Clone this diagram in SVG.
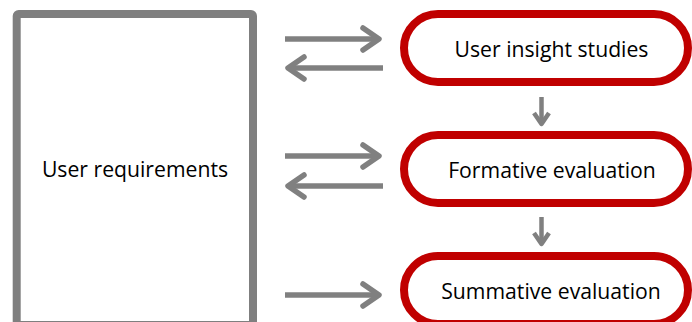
<svg xmlns="http://www.w3.org/2000/svg" width="692" height="322" viewBox="0 0 692 322">
<style>
.box{fill:#fff;stroke:#7f7f7f;stroke-width:8}
.pill{fill:#fff;stroke:#c00000;stroke-width:8}
.lbl{font-family:"Open Sans","Liberation Sans",sans-serif;font-size:21.2px;fill:#000;text-anchor:middle}
.arr{fill:none;stroke:#808080;stroke-width:5.5;stroke-linecap:round;stroke-linejoin:round}
.arr-s{fill:none;stroke:#808080;stroke-width:5.5}
.darr{fill:none;stroke:#808080;stroke-width:4.5;stroke-linejoin:round}
</style>
<rect width="692" height="322" fill="#fff"/>
<g id="user-requirements">
<rect class="box" x="16.7" y="14" width="236.3" height="311" rx="2"/>
<text class="lbl" x="135" y="177">User requirements</text>
</g>
<g id="user-insight-studies">
<rect class="pill" x="404" y="14" width="284" height="68" rx="34"/>
<text class="lbl" x="551.5" y="57">User insight studies</text>
</g>
<g id="formative-evaluation">
<rect class="pill" x="404" y="135" width="284" height="68" rx="34"/>
<text class="lbl" x="552" y="178">Formative evaluation</text>
</g>
<g id="summative-evaluation">
<rect class="pill" x="404" y="256" width="284" height="68" rx="34"/>
<text class="lbl" x="551" y="299">Summative evaluation</text>
</g>
<g id="connectors">
<line class="arr-s" x1="285" y1="39" x2="378" y2="39"/>
<polyline class="arr" points="363,28 379,39 363,50"/>
<line class="arr-s" x1="290" y1="68" x2="383" y2="68"/>
<polyline class="arr" points="304,57 288,68 304,79"/>
<line class="arr-s" x1="285" y1="156" x2="378" y2="156"/>
<polyline class="arr" points="363,145 379,156 363,167"/>
<line class="arr-s" x1="290" y1="186" x2="383" y2="186"/>
<polyline class="arr" points="304,175 288,186 304,197"/>
<line class="arr-s" x1="285" y1="295" x2="378" y2="295"/>
<polyline class="arr" points="363,284 379,295 363,306"/>
<line class="darr" x1="541.5" y1="97" x2="541.5" y2="123"/>
<polyline class="darr" points="534,113 541.5,124 549,113"/>
<line class="darr" x1="541.5" y1="217" x2="541.5" y2="243"/>
<polyline class="darr" points="534,233 541.5,244 549,233"/>
</g>
</svg>
